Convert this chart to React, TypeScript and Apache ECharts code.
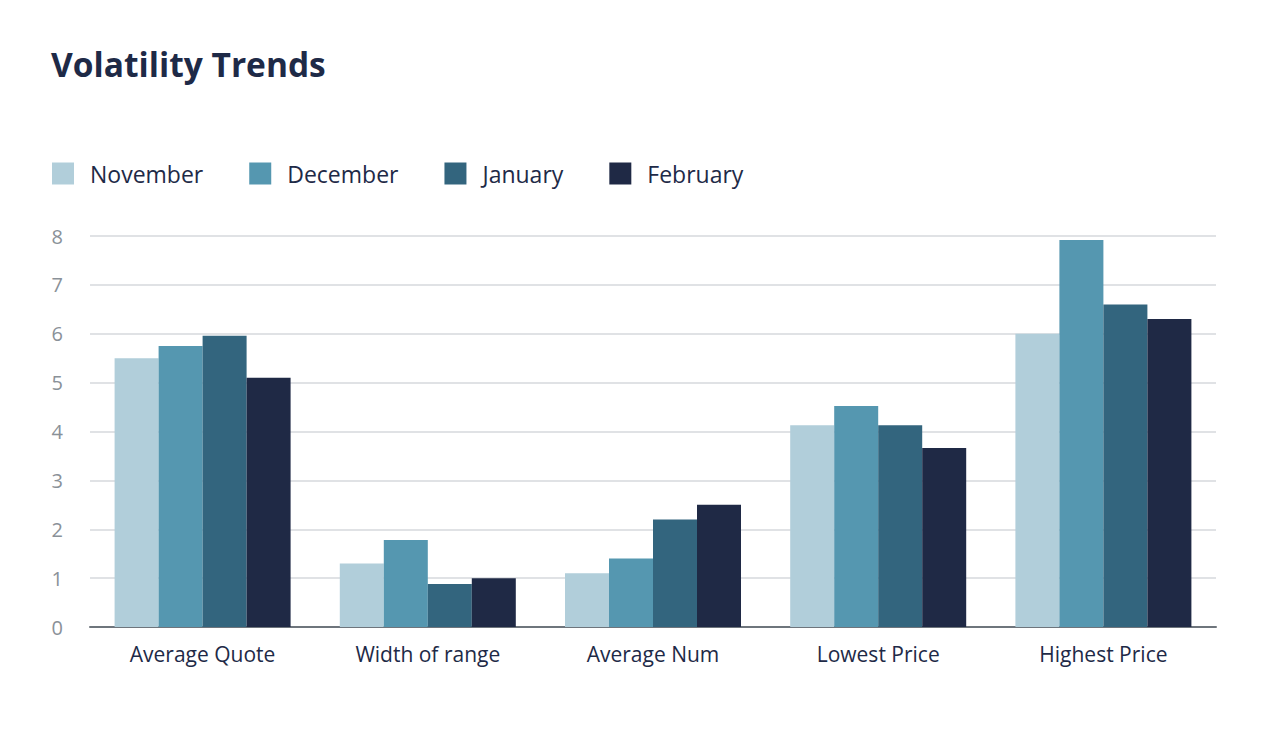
import React, { useEffect, useRef } from "react";
import * as echarts from "echarts";

const categories = ["Average Quote", "Width of range", "Average Num", "Lowest Price", "Highest Price"];
const seriesNames = ["November", "December", "January", "February"];
const november = [5.5, 1.3, 1.1, 4.13, 6.0];
const december = [5.75, 1.78, 1.4, 4.52, 7.92];
const january = [5.96, 0.88, 2.2, 4.13, 6.6];
const february = [5.1, 1.0, 2.5, 3.66, 6.3];
const colors = ["#b1ceda", "#5597b0", "#33657e", "#1f2945"];

export default function App() {
  const ref = useRef<HTMLDivElement>(null);
  useEffect(() => {
    document.body.style.margin = "0";
    const chart = echarts.init(ref.current!, null, { renderer: "svg" });
    const values = [november, december, january, february];
    chart.setOption({
      animation: false,
      backgroundColor: "#ffffff",
      textStyle: { fontFamily: "Open Sans" },
      title: {
        text: "Volatility Trends",
        left: 51,
        top: 47,
        padding: 0,
        textStyle: { fontFamily: "Open Sans", fontWeight: "bold", fontSize: 33.5, color: "#1e2a47" },
      },
      legend: {
        left: 52,
        top: 162,
        padding: 0,
        itemWidth: 22,
        itemHeight: 22,
        itemGap: 46,
        icon: "rect",
        data: seriesNames,
        textStyle: { fontFamily: "Open Sans", fontSize: 23, color: "#1e2a47", padding: [0, 0, 0, 11] },
      },
      grid: { left: 90, right: 60, top: 236, bottom: 124, containLabel: false },
      xAxis: {
        type: "category",
        data: categories,
        axisTick: { show: false },
        axisLine: { lineStyle: { color: "#6e757c", width: 2 } },
        axisLabel: { fontFamily: "Open Sans", fontSize: 21, color: "#1e2a47", margin: 16 },
      },
      yAxis: {
        type: "value",
        min: 0,
        max: 8,
        interval: 1,
        axisLine: { show: false },
        axisTick: { show: false },
        splitLine: { lineStyle: { color: "#d6d9dc", width: 1.5 } },
        axisLabel: { fontFamily: "Open Sans", fontSize: 20, color: "#8a9198", margin: 27 },
      },
      series: seriesNames.map((name, i) => ({
        name,
        type: "bar",
        data: values[i],
        barWidth: 44,
        barGap: "0%",
        itemStyle: { color: colors[i] },
      })),
    });
    return () => chart.dispose();
  }, []);
  return <div ref={ref} style={{ width: 1276, height: 751 }} />;
}
